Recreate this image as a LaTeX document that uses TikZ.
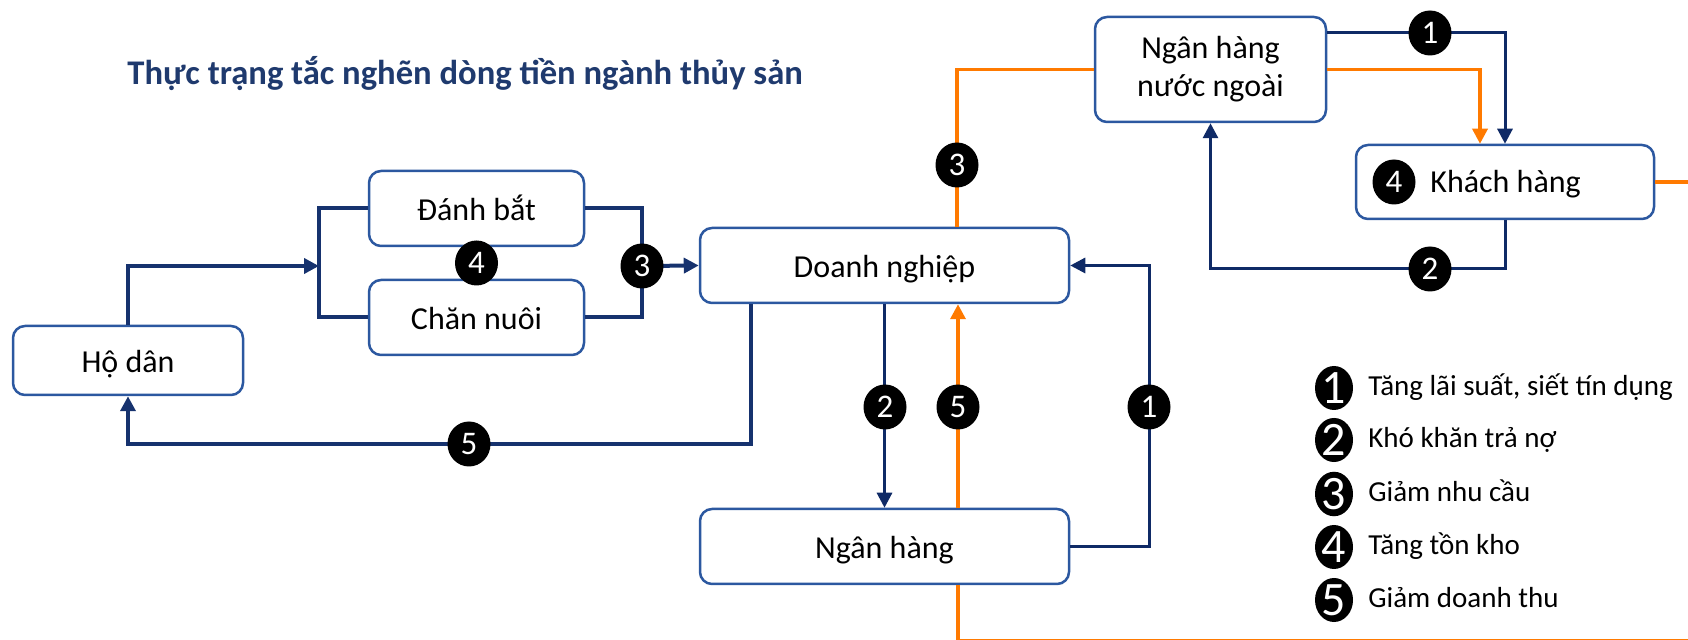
\documentclass[tikz,border=0pt]{standalone}
\usepackage{fontspec}
\setmainfont{Carlito}
\usetikzlibrary{arrows.meta,shapes.geometric}
\definecolor{navy}{HTML}{16326E}
\definecolor{navydark}{HTML}{0F2A66}
\definecolor{boxblue}{HTML}{2C58A0}
\definecolor{flow}{HTML}{FF7A00}
\definecolor{titleblue}{HTML}{1F3A6E}
\begin{document}
\begin{tikzpicture}[x=0.5pt,y=-0.5pt,
  >={Triangle[length=7.5pt,width=7.5pt]},
  box/.style 2 args={draw=boxblue, line width=1.25pt, rounded corners=6pt,
    fill=white, minimum width=#1*0.5pt, minimum height=#2*0.5pt,
    inner sep=0pt, font=\fontsize{16}{19}\selectfont},
  oneline/.style={text height=12pt, text depth=0pt},
  heavy/.style={draw=navy, line width=2pt},
  link/.style={draw=navydark, line width=1.5pt},
  money/.style={draw=flow, line width=1.75pt},
  badge/.style={ellipse, fill=black, minimum width=21.5pt, minimum height=22.5pt,
    inner sep=0pt, text=white, font=\fontsize{16.5}{16.5}\selectfont},
  keybadge/.style={ellipse, fill=black, minimum width=19pt, minimum height=22pt,
    inner sep=0pt, text=white, font=\fontsize{24}{24}\selectfont},
  keytext/.style={anchor=base west, inner sep=0pt, font=\fontsize{14.5}{17}\selectfont}
]
\path[use as bounding box, clip] (0,0) rectangle (1688,640);

% title
\node[anchor=base west, inner sep=0pt, text=titleblue,
  font=\fontsize{17.3}{20}\selectfont\bfseries] (title) at (127,85)
  {Thực trạng tắc nghẽn dòng tiền ngành thủy sản};

% junction points
\coordinate (jL) at (319,266);
\coordinate (jR) at (642,266);
\coordinate (c5) at (128,444);
\coordinate (c1) at (1149,265.5);
\coordinate (c2) at (1210.5,269);
\coordinate (o1) at (1700,182);
\coordinate (o2) at (1700,641.2);
\coordinate (o3) at (958,641.2);

% boxes
\node[box={230}{69}, oneline] (hodan) at (128,360.5) {Hộ dân};
\node[box={215}{75}, oneline] (danhbat) at (476.5,208.5) {Đánh bắt};
\node[box={215}{75}, oneline] (channuoi) at (476.5,317.5) {Chăn nuôi};
\node[box={369}{75}, oneline] (dn) at (884.5,265.5) {Doanh nghiệp};
\node[box={369}{75}, oneline] (nh) at (884.5,546.5) {Ngân hàng};
\node[box={231}{105}, align=center] (nhnn) at (1210.5,69.5) {Ngân hàng\\nước ngoài};
\node[box={298}{74}] (kh) at (1505,182) {};
\node[anchor=base west, inner sep=0pt, font=\fontsize{16}{19}\selectfont] (khtext) at (1430,193) {Khách hàng};

% producers feeding the enterprise
\draw[heavy,->] (hodan.north) |- (jL);
\draw[heavy] (danhbat.west) -| (319,317.5) -- (channuoi.west);
\draw[heavy] (danhbat.east) -| (642,317.5) -- (channuoi.east);
\draw[heavy,->] (jR) -- (dn.west);
\draw[heavy,->] ([xshift=-67pt]dn.south) |- (c5) -- (hodan.south);

% enterprise and domestic bank
\draw[link,->] (dn.south) -- (nh.north);
\draw[money,->] ([xshift=36.75pt]nh.north) -- ([xshift=36.75pt]dn.south);
\draw[link,->] (nh.east) -| (c1) -- (dn.east);

% foreign side
\draw[money] ([xshift=36.25pt]dn.north) |- (nhnn.west);
\draw[money,->] (nhnn.east) -| ([xshift=-12.5pt]kh.north);
\draw[link,->] ([yshift=18.25pt]nhnn.east) -| (kh.north);
\draw[link,->] (kh.south) |- (c2) -- (nhnn.south);
\draw[money] (kh.east) -- (o1) -- (o2) -- (o3) -- ([xshift=36.75pt]nh.south);

% numbered markers on the flows
\node[badge] (b4a) at (476.5,263) {4};
\node[badge] (b3a) at (jR) {3};
\node[badge] (b5a) at (469,444) {5};
\node[badge] (b2a) at (885,407) {2};
\node[badge] (b5b) at (958,407) {5};
\node[badge] (b1a) at (1149,407) {1};
\node[badge] (b3b) at (957,165) {3};
\node[badge] (b1b) at (1430,33) {1};
\node[badge] (b2b) at (1430,269) {2};
\node[badge] (b4b) at (1394,182) {4};

% key
\node[keybadge] (k1) at (1334,388) {1};
\node[keybadge] (k2) at (1334,440) {2};
\node[keybadge] (k3) at (1334,494) {3};
\node[keybadge] (k4) at (1334,547) {4};
\node[keybadge] (k5) at (1334,600) {5};
\node[keytext] (t1) at (1368,396) {Tăng lãi suất, siết tín dụng};
\node[keytext] (t2) at (1368,448) {Khó khăn trả nợ};
\node[keytext] (t3) at (1368,502) {Giảm nhu cầu};
\node[keytext] (t4) at (1368,555) {Tăng tồn kho};
\node[keytext] (t5) at (1368,608) {Giảm doanh thu};
\end{tikzpicture}
\end{document}
